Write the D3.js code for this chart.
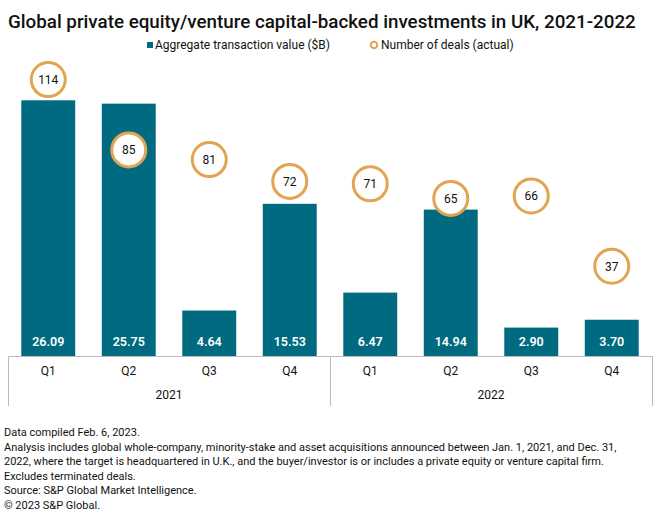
<!DOCTYPE html>
<html><head><meta charset="utf-8">
<script src="https://cdn.jsdelivr.net/npm/d3@7"></script>
<style>body{margin:0;background:#fff}svg{display:block;font-family:Roboto,"Liberation Sans",sans-serif}</style>
</head><body>
<script>
const quarters = ["Q1","Q2","Q3","Q4","Q1","Q2","Q3","Q4"];
const years = ["2021","2021","2021","2021","2022","2022","2022","2022"];
const values = [26.09,25.75,4.64,15.53,6.47,14.94,2.90,3.70];
const deals = [114,85,81,72,71,65,66,37];
const yearLabels = ["2021","2022"];
const title = "Global private equity/venture capital-backed investments in UK, 2021-2022";
const legendLabels = ["Aggregate transaction value ($B)","Number of deals (actual)"];
const notes = ["Data compiled Feb. 6, 2023.",
"Analysis includes global whole-company, minority-stake and asset acquisitions announced between Jan. 1, 2021, and Dec. 31,",
"2022, where the target is headquartered in U.K., and the buyer/investor is or includes a private equity or venture capital firm.",
"Excludes terminated deals.",
"Source: S&P Global Market Intelligence.",
"© 2023 S&P Global."];

const W=660,H=514, L=8, R=652, base=356, plotTop=62;
const teal="#006A80", orange="#E3A452";
const svg=d3.select("body").append("svg").attr("width",W).attr("height",H);

svg.append("text").attr("x",8).attr("y",28).attr("font-size",18.8).attr("font-weight",500).attr("fill","#111").text(title);

// legend
const lg=svg.append("g").attr("font-size",12).attr("fill","#111");
lg.append("rect").attr("x",147).attr("y",42).attr("width",6).attr("height",6).attr("fill",teal);
lg.append("text").attr("x",155).attr("y",49).text(legendLabels[0]);
lg.append("circle").attr("cx",374).attr("cy",45).attr("r",3.2).attr("fill","#fff").attr("stroke",orange).attr("stroke-width",2);
lg.append("text").attr("x",381).attr("y",49).text(legendLabels[1]);

const x=d3.scaleBand().domain(d3.range(values.length)).range([L,R]).paddingInner(0.33).paddingOuter(0.165);
const y=d3.scaleLinear().domain([0,30]).range([base,plotTop]);
const y2=d3.scaleLinear().domain([0,120]).range([base,plotTop+3]);

svg.append("g").selectAll("rect").data(values).join("rect")
  .attr("x",(d,i)=>x(i)).attr("width",x.bandwidth())
  .attr("y",d=>y(d)).attr("height",d=>base-y(d)).attr("fill",teal);

svg.append("g").selectAll("text").data(values).join("text")
  .attr("x",(d,i)=>x(i)+x.bandwidth()/2).attr("y",base-10).attr("text-anchor","middle")
  .attr("font-size",12.5).attr("font-weight",600).attr("fill","#fff").text(d=>d.toFixed(2));

const g2=svg.append("g");
g2.selectAll("circle").data(deals).join("circle")
  .attr("cx",(d,i)=>x(i)+x.bandwidth()/2).attr("cy",d=>y2(d)).attr("r",17)
  .attr("fill","#fff").attr("stroke",orange).attr("stroke-width",3);
g2.selectAll("text").data(deals).join("text")
  .attr("x",(d,i)=>x(i)+x.bandwidth()/2).attr("y",d=>y2(d)+4.5).attr("text-anchor","middle")
  .attr("font-size",12).attr("fill","#111").text(d=>d);

// axis
const ax=svg.append("g").attr("stroke","#bbb").attr("stroke-width",1);
ax.append("line").attr("x1",L).attr("x2",R).attr("y1",base+0.5).attr("y2",base+0.5);
[L,(L+R)/2,R].forEach(v=>ax.append("line").attr("x1",v+0.5).attr("x2",v+0.5).attr("y1",base).attr("y2",406));
svg.append("g").selectAll("text").data(quarters).join("text")
  .attr("x",(d,i)=>x(i)+x.bandwidth()/2).attr("y",375).attr("text-anchor","middle")
  .attr("font-size",12).attr("fill","#111").text(d=>d);
svg.append("g").selectAll("text").data(yearLabels).join("text")
  .attr("x",d=>{const idx=years.map((v,i)=>v===d?i:-1).filter(i=>i>=0);return (x(idx[0])+x(idx[idx.length-1])+x.bandwidth())/2;})
  .attr("y",399).attr("text-anchor","middle").attr("font-size",12).attr("fill","#111").text(d=>d);

svg.append("g").selectAll("text").data(notes).join("text")
  .attr("x",4).attr("y",(d,i)=>436+i*14.6).attr("font-size",11).attr("fill","#111").text(d=>d);
</script>
</body></html>
